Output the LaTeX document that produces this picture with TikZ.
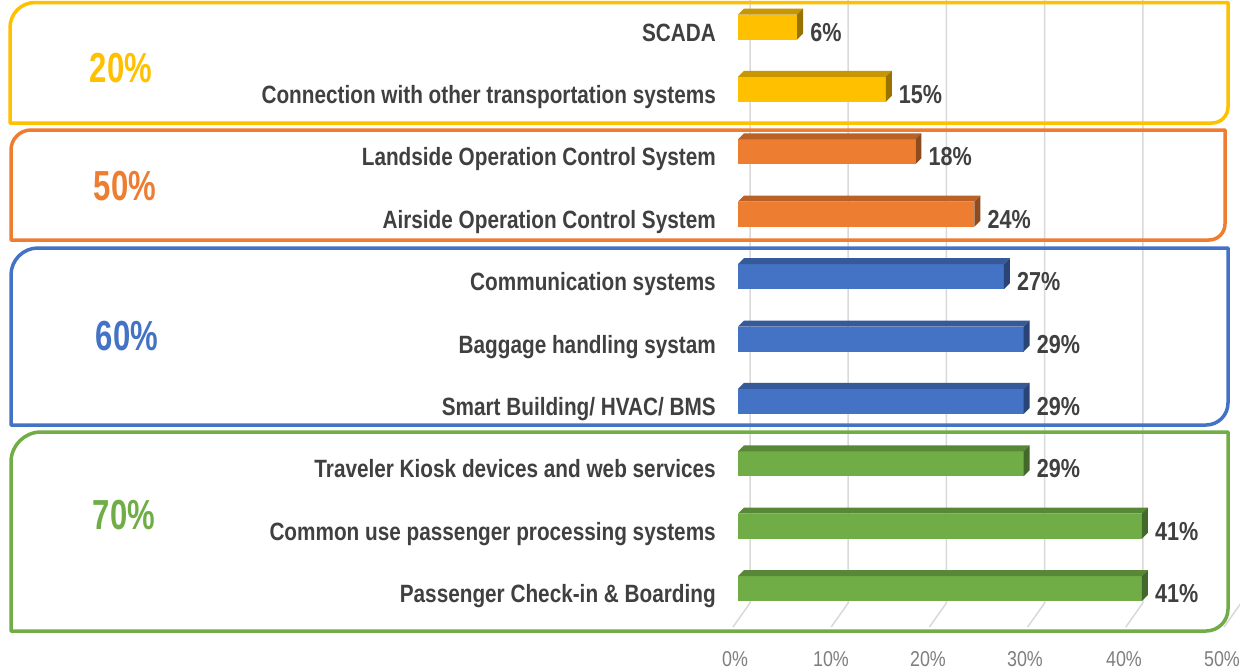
\documentclass[tikz,border=0pt]{standalone}
\usepackage{fontspec}
\setmainfont{Liberation Sans}[FakeStretch=0.83]
\newfontfamily\grpfont{Liberation Sans}[FakeStretch=0.74]
\definecolor{cY}{HTML}{FFC000}
\definecolor{cO}{HTML}{ED7D31}
\definecolor{cB}{HTML}{4472C4}
\definecolor{cG}{HTML}{70AD47}
\definecolor{txt}{HTML}{404040}
\definecolor{axtxt}{HTML}{7F7F7F}
\definecolor{grid}{HTML}{D9D9D9}
\tikzset{
  cat/.style={inner sep=0pt, text=txt, font=\fontsize{25}{25}\selectfont\bfseries},
  val/.style={inner sep=0pt, text=txt, font=\fontsize{26}{26}\selectfont\bfseries},
  axlab/.style={inner sep=0pt, text=axtxt, font=\fontsize{21.5}{21.5}\selectfont},
  grplab/.style={inner sep=0pt, font=\fontsize{42}{42}\selectfont\grpfont\bfseries},
  gridline/.style={draw=grid, line width=1.5pt},
  grpbox/.style={line width=3.5pt, line join=round},
}
\newcommand\chartrow[5]{%
  \pgfmathsetmacro\yc{27+62.4*#1}%
  \pgfmathsetmacro\xe{738+9.85*#2}%
  \fill[#3] (738,\yc-12.5) rectangle (\xe,\yc+12.5);
  \fill[#3!78!black] (738,\yc-12.5) -- (744,\yc-18.5) -- (\xe+6,\yc-18.5) -- (\xe,\yc-12.5) -- cycle;
  \fill[#3!60!black] (\xe,\yc-12.5) -- (\xe+6,\yc-18.5) -- (\xe+6,\yc+6.5) -- (\xe,\yc+12.5) -- cycle;
  \node[cat, anchor=base east] (#5) at (716,\yc+14) {#4};
  \node[val, anchor=base west] (#5v) at (\xe+13,\yc+14) {#2\%};
}
\newcommand\grpframe[7]{% x1 y1 x2 y2 r1 r2 colour
  \draw[grpbox, draw=#7] (#1,#4) -- (#1,#2+#5) arc[start angle=180, end angle=270, radius=#5]
     -- (#3,#2) -- (#3,#4-#6) arc[start angle=0, end angle=90, radius=#6] -- cycle;
}
\begin{document}
\begin{tikzpicture}[x=1pt,y=-1pt]
\useasboundingbox (0,0) rectangle (1240,670);
\fill[white] (0,0) rectangle (1240,670);
% grid (back wall + floor)
\foreach \k in {0,...,5}{
  \coordinate (gt\k) at (750+98.2*\k,0);
  \coordinate (gb\k) at (750+98.2*\k,603);
  \coordinate (gf\k) at (733+98.2*\k,627);
  \draw[gridline] (gt\k) -- (gb\k) -- (gf\k);
}
% axis labels
\node[axlab, anchor=base] (ax0) at (735,666) {0\%};
\node[axlab, anchor=base] (ax1) at (831,666) {10\%};
\node[axlab, anchor=base] (ax2) at (928,666) {20\%};
\node[axlab, anchor=base] (ax3) at (1025,666) {30\%};
\node[axlab, anchor=base] (ax4) at (1124,666) {40\%};
\node[axlab, anchor=base] (ax5) at (1222,666) {50\%};
% bars
\chartrow{0}{6}{cY}{SCADA}{r0}
\chartrow{1}{15}{cY}{Connection with other transportation systems}{r1}
\chartrow{2}{18}{cO}{Landside Operation Control System}{r2}
\chartrow{3}{24}{cO}{Airside Operation Control System}{r3}
\chartrow{4}{27}{cB}{Communication systems}{r4}
\chartrow{5}{29}{cB}{Baggage handling systam}{r5}
\chartrow{6}{29}{cB}{Smart Building/ HVAC/ BMS}{r6}
\chartrow{7}{29}{cG}{Traveler Kiosk devices and web services}{r7}
\chartrow{8}{41}{cG}{Common use passenger processing systems}{r8}
\chartrow{9}{41}{cG}{Passenger Check-in \& Boarding}{r9}
% group frames
\grpframe{10}{2.5}{1228}{123}{25}{16}{cY}
\grpframe{11}{130}{1225}{240}{20}{16}{cO}
\grpframe{11}{248}{1228}{425}{27}{22}{cB}
\grpframe{11}{432}{1228}{631}{30}{22}{cG}
% group labels
\node[grplab, text=cY, anchor=base] (g20) at (121,82) {20\%};
\node[grplab, text=cO, anchor=base] (g50) at (125,200) {50\%};
\node[grplab, text=cB, anchor=base] (g60) at (127,350) {60\%};
\node[grplab, text=cG, anchor=base] (g70) at (124,529) {70\%};
\end{tikzpicture}
\end{document}
